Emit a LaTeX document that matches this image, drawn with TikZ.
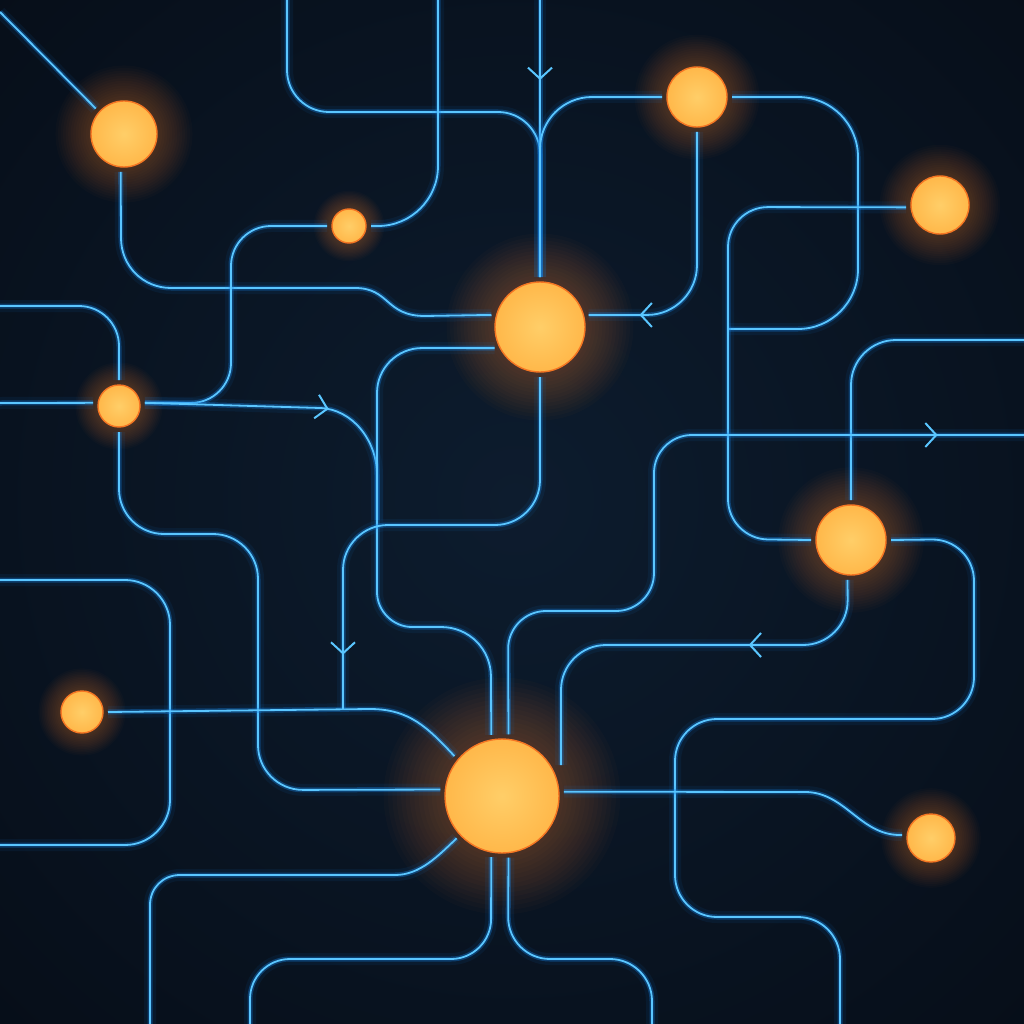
\documentclass[tikz,border=0pt]{standalone}
\usepackage{tikz}
\usetikzlibrary{arrows.meta,backgrounds,decorations.markings}

\definecolor{bgout}{RGB}{3,7,14}
\definecolor{bgin}{RGB}{13,28,46}
\definecolor{wirecore}{RGB}{90,198,255}
\definecolor{wireglow}{RGB}{20,130,230}
\definecolor{nodecore}{RGB}{255,206,104}
\definecolor{nodefill}{RGB}{255,184,74}
\definecolor{noderim}{RGB}{245,118,35}
\definecolor{nodehalo}{RGB}{255,130,40}

\begin{document}
\begin{tikzpicture}[x=1pt, y=-1pt,
	junction/.style={circle, inner sep=0pt, outer sep=5pt, draw=noderim, line width=1.4pt, inner color=nodecore, outer color=nodefill},
	wire/.style={color=wirecore, line width=1.8pt, rounded corners=#1,
		preaction={draw=wireglow, line width=12pt, opacity=0.08},
		preaction={draw=wireglow, line width=5pt, opacity=0.35}},
	wire/.default=42pt,
	flow/.style={postaction={decorate, decoration={markings, mark=at position #1 with {\arrow{Straight Barb[length=11pt, width=24pt, line width=2pt, color=wirecore]}}}}}]
	\useasboundingbox (0,0) rectangle (1024,1024);
	\node [junction](corner_node) at (124,134) [minimum size=66pt]{};
	\node [junction](small_node) at (349,226) [minimum size=34pt]{};
	\node [junction](north_node) at (697,97) [minimum size=60pt]{};
	\node [junction](east_node) at (940,205) [minimum size=58pt]{};
	\node [junction](upper_hub_node) at (540,327) [minimum size=90pt]{};
	\node [junction](left_node) at (119,406) [minimum size=42pt]{};
	\node [junction](right_node) at (851,540) [minimum size=70pt]{};
	\node [junction](low_left_node) at (82,712) [minimum size=42pt]{};
	\node [junction](hub_node) at (502,796) [minimum size=114pt]{};
	\node [junction](low_right_node) at (931,838) [minimum size=48pt]{};
	% free ends at the edges and where wires join
	\coordinate (nw_end) at (0,12);
	\coordinate (top_a_end) at (287,0);
	\coordinate (top_b_end) at (540,0);
	\coordinate (top_c_end) at (438,0);
	\coordinate (west_a_end) at (0,306);
	\coordinate (west_b_end) at (0,403);
	\coordinate (west_c_end) at (0,580);
	\coordinate (west_d_end) at (0,845);
	\coordinate (east_a_end) at (1024,340);
	\coordinate (east_b_end) at (1024,435);
	\coordinate (south_a_end) at (840,1024);
	\coordinate (south_b_end) at (652,1024);
	\coordinate (south_c_end) at (250,1024);
	\coordinate (south_d_end) at (150,1024);
	\coordinate (merge_a) at (377,520);
	\coordinate (merge_b) at (343,709);
	\coordinate (merge_c) at (728,329);
	\coordinate (hook_end) at (561,765);
	\begin{scope}[on background layer]
	\clip (0,0) rectangle (1024,1024);
	\fill [bgout] (0,0) rectangle (1024,1024);
	\shade [inner color=bgin, outer color=bgout] (515,500) circle (1100);
	\foreach \n/\r in {corner_node/33, small_node/17, north_node/30, east_node/29, upper_hub_node/45, left_node/21, right_node/35, low_left_node/21, hub_node/57, low_right_node/24}
		\foreach \k in {1,...,14}
			\fill [nodehalo, opacity=0.022] (\n) circle ({\r+\k*\r/13});
	% top
	\draw [wire] (nw_end) -- (corner_node.138);
	\draw [wire] (top_a_end) -- (287,112) -- (540,112) -- (upper_hub_node.north);
	\draw [wire, flow=80pt] (top_b_end) -- (upper_hub_node.north);
	\draw [wire=52pt] (north_node.west) -- (540,97) -- (upper_hub_node.north);
	\draw [wire=60pt] (top_c_end) -- (438,226) -- (small_node.east);
	\draw [wire, sharp corners] (corner_node.265) -- (121,238) .. controls (121,266) and (143,288) .. (171,288) -- (355,288) .. controls (390,288) and (385,316) .. (425,316) -- (upper_hub_node.166);
	\draw [wire=40pt] (small_node.west) -- (231,226) -- (231,403) -- (left_node.7);
	\draw [wire=40pt] (west_a_end) -- (119,306) -- (left_node.north);
	\draw [wire] (west_b_end) -- (left_node.173);
	\draw [wire, sharp corners, flow=184pt] (left_node.7) -- (320,408) .. controls (352,409) and (377,440) .. (377,475) -- (377,592) .. controls (377,611) and (393,627) .. (412,627) -- (441,627) .. controls (469,627) and (491,649) .. (491,677) -- (hub_node.100);
	\draw [wire=45pt] (upper_hub_node.205) -- (377,348) -- (merge_a);
	\draw [wire=50pt, flow=219pt] (north_node.south) -- (697,315) -- (upper_hub_node.14);
	\draw [wire=60pt] (north_node.east) -- (858,97) -- (858,329) -- (merge_c);
	\draw [wire=40pt] (east_node.184) -- (728,207) -- (728,539) -- (right_node.west);
	\draw [wire=45pt] (right_node.north) -- (851,340) -- (east_a_end);
	% middle and bottom
	\draw [wire=45pt] (left_node.south) -- (119,534) -- (258,534) -- (258,790) -- (hub_node.174);
	\draw [wire=45pt] (west_c_end) -- (170,580) -- (170,845) -- (west_d_end);
	\draw [wire, sharp corners] (low_left_node.east) -- (370,709) .. controls (410,709) and (428,728) .. (hub_node.140);
	\draw [wire=45pt, flow=436pt] (upper_hub_node.south) -- (540,525) -- (343,525) -- (merge_b);
	\draw [wire=38pt, flow=680pt] (hub_node.84) -- (508,611) -- (654,611) -- (654,435) -- (east_b_end);
	\draw [wire=45pt, flow=145pt] (right_node.265) -- (848,645) -- (561,645) -- (hook_end);
	\draw [wire] (right_node.east) -- (974,539) -- (974,719) -- (675,719) -- (675,917) -- (840,917) -- (south_a_end);
	\draw [wire, sharp corners] (hub_node.4) -- (805,792) .. controls (845,792) and (860,835) .. (900,835) -- (low_right_node.174);
	\draw [wire] (hub_node.276) -- (508,959) -- (652,959) -- (south_b_end);
	\draw [wire=40pt] (hub_node.260) -- (491,959) -- (250,959) -- (south_c_end);
	\draw [wire, sharp corners] (hub_node.223) .. controls (438,856) and (420,875) .. (395,875) -- (180,875) .. controls (163,875) and (150,888) .. (150,905) -- (south_d_end);
	\end{scope}
\end{tikzpicture}
\end{document}
